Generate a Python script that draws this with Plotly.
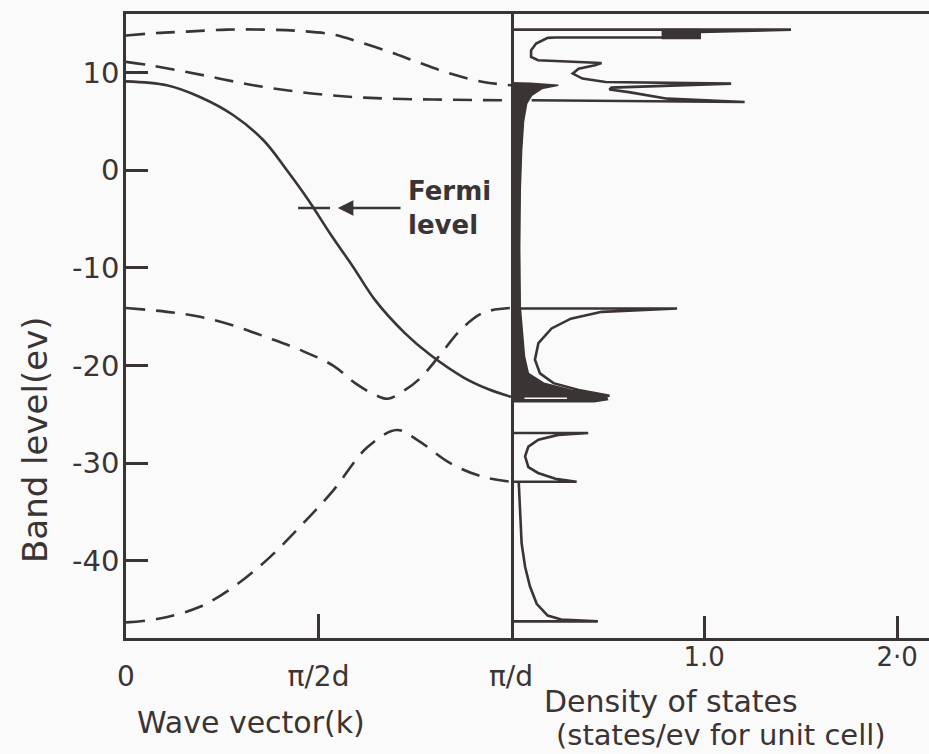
import plotly.graph_objects as go

# ---------------- data ----------------
# Band structure (k in units of pi/d, energy in eV)
solid_k = [0, 0.106, 0.192, 0.279, 0.357, 0.418, 0.474, 0.53, 0.59, 0.647, 0.725, 0.79, 0.876, 0.94, 1.0]
solid_E = [9.1, 8.7, 7.5, 5.63, 3.07, 0.0, -3.07, -6.48, -9.9, -13.3, -16.7, -18.9, -21.2, -22.4, -23.2]

dash1_k = [0, 0.08, 0.158, 0.262, 0.365, 0.452, 0.538, 0.608, 0.686, 0.755, 0.842, 0.928, 1.0]
dash1_E = [13.8, 14.05, 14.2, 14.4, 14.4, 14.26, 13.9, 13.1, 12.1, 11.1, 9.9, 9.04, 8.7]

dash2_k = [0, 0.062, 0.158, 0.244, 0.331, 0.417, 0.504, 0.59, 0.677, 0.798, 1.0]
dash2_E = [11.1, 10.75, 10.06, 9.38, 8.7, 8.19, 7.78, 7.5, 7.34, 7.24, 7.16]

dash3_k = [0, 0.106, 0.192, 0.279, 0.365, 0.452, 0.538, 0.595, 0.647, 0.68, 0.725, 0.764, 0.816, 0.868, 0.927, 1.0]
dash3_E = [-14.1, -14.5, -15.0, -15.9, -17.1, -18.4, -20.0, -21.8, -23.0, -23.4, -22.5, -21.3, -18.9, -16.4, -14.6, -14.1]

dash4_k = [0, 0.088, 0.192, 0.278, 0.366, 0.452, 0.538, 0.626, 0.703, 0.756, 0.842, 0.927, 1.0]
dash4_E = [-46.3, -45.9, -44.7, -42.7, -39.9, -36.5, -32.8, -28.4, -26.6, -27.6, -30.0, -31.4, -31.9]

fermi_E = -3.86
fermi_k = [0.447, 0.53]

# Density of states (states/eV per unit cell) vs energy
dos_top_x = [0, 1.45, 0.98, 0.78, 0.23, 0.19, 0.13, 0.104, 0.104, 0.14, 0.469, 0.435, 0.35, 0.32, 0.37, 0.49, 1.14,
             0.61, 0.52, 0.51, 0.61, 0.81, 1.21, 0.107]
dos_top_E = [14.4, 14.4, 14.15, 13.6, 13.6, 13.56, 12.97, 12.28, 11.6, 11.26, 10.98, 10.75, 10.4, 9.9, 9.39, 9.04, 8.87,
             8.53, 8.46, 8.26, 8.0, 7.33, 6.99, 7.16]
dos_block_x = [0.78, 0.98, 0.98, 0.78]
dos_block_E = [14.4, 14.4, 13.5, 13.5]

dos_fill_x = [0, 0.10, 0.245, 0.16, 0.107, 0.081, 0.065, 0.055, 0.048, 0.045, 0.048, 0.055, 0.07, 0.09, 0.17,
              0.31, 0.49, 0.50, 0.43, 0.10, 0]
dos_fill_E = [8.95, 8.9, 8.7, 8.36, 7.68, 6.83, 5.0, 2.0, -2.0, -8.0, -14.0, -15.7, -19.1, -20.8, -21.8,
              -22.5, -23.0, -23.5, -23.7, -23.7, -23.7]
dos_gap_x = [0.07, 0.29]
dos_gap_E = [-23.35, -23.35]

dos_mid_x = [0, 0.86, 0.47, 0.31, 0.21, 0.142, 0.124, 0.15, 0.22, 0.35, 0.51, 0.44]
dos_mid_E = [-14.16, -14.16, -14.5, -15.2, -16.2, -17.7, -19.4, -20.8, -21.8, -22.5, -23.1, -23.27]

dos_low1_x = [0, 0.40, 0.245, 0.142, 0.09, 0.073, 0.09, 0.14, 0.23, 0.34, 0]
dos_low1_E = [-26.9, -26.9, -27.1, -27.6, -28.3, -29.3, -30.4, -31.0, -31.6, -31.9, -31.9]

dos_low2_x = [0.04, 0.047, 0.055, 0.073, 0.098, 0.133, 0.19, 0.26, 0.45, 0]
dos_low2_E = [-31.9, -34.8, -38.2, -40.6, -42.6, -44.4, -45.6, -46.0, -46.2, -46.2]

y_ticks = [-40, -30, -20, -10, 0, 10]
y_labels = ["-40", "-30", "-20", "-10", "0", "10"]
k_ticks = [0, 0.5, 1.0]
k_labels = ["0", "π/2d", "π/d"]
dos_ticks = [1.0, 2.0]
dos_labels = ["1.0", "2·0"]

# ---------------- style ----------------
INK = "#3a3434"
BG = "#fbfafa"
FONT = "DejaVu Sans"
LW = 2.6
DASH = "19px,11px"

fig = go.Figure()

def line(x, y, axis="x", dash=None, width=LW, color=INK):
    fig.add_trace(go.Scatter(x=x, y=y, mode="lines", xaxis=axis, yaxis="y",
                             line=dict(color=color, width=width, dash=dash, shape="spline", smoothing=1.0),
                             hoverinfo="skip", showlegend=False))

line(solid_k, solid_E)
for kk, ee in [(dash1_k, dash1_E), (dash2_k, dash2_E), (dash3_k, dash3_E), (dash4_k, dash4_E)]:
    line(kk, ee, dash=DASH)

fig.add_trace(go.Scatter(x=fermi_k, y=[fermi_E, fermi_E], mode="lines", xaxis="x", yaxis="y",
                         line=dict(color=INK, width=LW), hoverinfo="skip", showlegend=False))

# DOS filled parts
for xx, ee in [(dos_fill_x, dos_fill_E), (dos_block_x, dos_block_E)]:
    fig.add_trace(go.Scatter(x=xx, y=ee, mode="lines", xaxis="x2", yaxis="y", fill="toself",
                             fillcolor=INK, line=dict(color=INK, width=1.5),
                             hoverinfo="skip", showlegend=False))

def dosline(x, y, width=LW, color=INK):
    fig.add_trace(go.Scatter(x=x, y=y, mode="lines", xaxis="x2", yaxis="y",
                             line=dict(color=color, width=width),
                             hoverinfo="skip", showlegend=False))

dosline(dos_top_x, dos_top_E)
dosline(dos_mid_x, dos_mid_E)
dosline(dos_low1_x, dos_low1_E)
dosline(dos_low2_x, dos_low2_E)
dosline(dos_gap_x, dos_gap_E, width=1.6, color=BG)

W, H = 929, 754
L, R, T, B = 126, 0, 14, 116
split = (511 - L) / (W - L - R)

fig.update_layout(
    width=W, height=H, autosize=False,
    margin=dict(l=L, r=R, t=T, b=B, pad=0, autoexpand=False),
    paper_bgcolor=BG, plot_bgcolor=BG,
    showlegend=False,
    xaxis=dict(domain=[0, split], range=[0, 1], tickvals=k_ticks, ticktext=k_labels,
               ticks="inside", ticklen=24, tickwidth=LW, tickcolor=INK, automargin=False,
               showline=True, linecolor=INK, linewidth=LW, mirror=True,
               showgrid=False, zeroline=False, tickfont=dict(family=FONT, size=28, color=INK),
               ticklabelstandoff=12),
    xaxis2=dict(domain=[split, 1], range=[0, 2.165], tickvals=dos_ticks, ticktext=dos_labels,
                anchor="y", ticks="inside", ticklen=22, tickwidth=LW, tickcolor=INK, automargin=False,
                showline=True, linecolor=INK, linewidth=LW, mirror=True,
                showgrid=False, zeroline=False, tickfont=dict(family=FONT, size=26, color=INK),
                ticklabelstandoff=-6),
    yaxis=dict(range=[-47.9, 16.0], tickvals=y_ticks, ticktext=y_labels,
               anchor="x", ticks="inside", ticklen=22, tickwidth=LW, tickcolor=INK, automargin=False,
               showline=True, linecolor=INK, linewidth=LW, mirror=True,
               showgrid=False, zeroline=False, tickfont=dict(family=FONT, size=29, color=INK),
               ticklabelstandoff=-2),
)

anns = [
    dict(text="Wave vector(k)", x=251, y=722, size=30),
    dict(text="Density of states", x=671, y=701, size=30),
    dict(text="(states/ev for unit cell)", x=721, y=735, size=29),
]
for a in anns:
    fig.add_annotation(text=a["text"], xref="paper", yref="paper",
                       x=(a["x"] - L) / (W - L - R), y=(H - a["y"] - B) / (H - T - B),
                       xanchor="center", yanchor="middle", showarrow=False,
                       font=dict(family=FONT, size=a["size"], color=INK))

fig.add_annotation(text="Band level(ev)", xref="paper", yref="paper",
                   x=(35 - L) / (W - L - R), y=(H - 440 - B) / (H - T - B),
                   xanchor="center", yanchor="middle", textangle=-90, showarrow=False,
                   font=dict(family=FONT, size=34, color=INK))

# Fermi level arrow and label
fig.add_annotation(x=0.55, y=fermi_E, ax=0.717, ay=fermi_E, xref="x", yref="y", axref="x", ayref="y",
                   text="", showarrow=True, arrowhead=2, arrowsize=1.2, arrowwidth=LW, arrowcolor=INK)
fig.add_annotation(text="<b>Fermi</b><br><b>level</b>", x=0.728, y=-3.9, xref="x", yref="y",
                   xanchor="left", yanchor="middle", align="left", showarrow=False,
                   font=dict(family=FONT, size=26, color=INK))

fig.write_html("out.html")
